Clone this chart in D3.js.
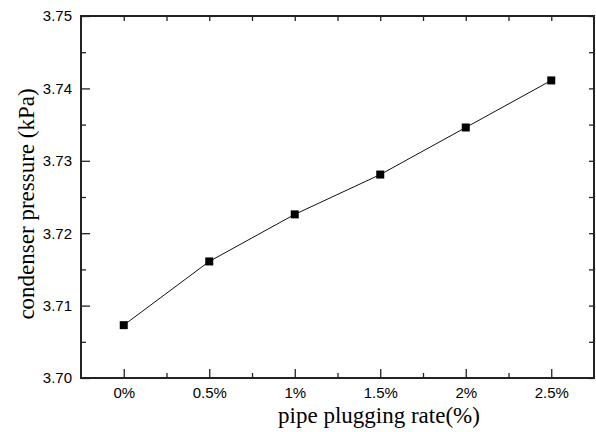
<!DOCTYPE html>
<html>
<head>
<meta charset="utf-8">
<script src="https://cdn.jsdelivr.net/npm/d3@7"></script>
<style>
  body { margin: 0; background: #fff; }
  svg { display: block; }
  .tick text { font-family: "Liberation Sans", Arial, sans-serif; font-size: 15px; fill: #000; }
  .title { font-family: "Liberation Serif", "Times New Roman", serif; font-size: 23px; fill: #000; }
</style>
</head>
<body>
<div id="chart"></div>
<script>
// data
const rates = [0, 0.5, 1, 1.5, 2, 2.5];
const pressures = [3.7073, 3.7161, 3.7226, 3.7281, 3.7346, 3.7411];
const xTicks = [0, 0.5, 1, 1.5, 2, 2.5];
const yTicks = [3.70, 3.71, 3.72, 3.73, 3.74, 3.75];

const W = 596, H = 432;
const MARGIN = { LEFT: 81, RIGHT: 2, TOP: 16, BOTTOM: 54 };

const svg = d3.select("#chart").append("svg")
  .attr("width", W).attr("height", H);

const x = d3.scaleLinear().domain([-0.25, 2.75]).range([MARGIN.LEFT, W - MARGIN.RIGHT]);
const y = d3.scaleLinear().domain([3.70, 3.75]).range([H - MARGIN.BOTTOM, MARGIN.TOP]);

const minorX = d3.range(-0.25, 2.76, 0.5).filter(v => v > -0.25 && v < 2.75);
const minorY = d3.range(3.705, 3.75, 0.01);

function styleAxis(g) {
  g.select(".domain").remove();
  g.selectAll(".tick line").attr("stroke", "#222").attr("stroke-width", 1.3);
}

// bottom axis (ticks inward)
const bottomG = svg.append("g").attr("transform", `translate(0,${y.range()[0]})`);
bottomG.call(d3.axisBottom(x).tickValues(xTicks).tickSize(-9).tickPadding(9)
  .tickFormat(d => d + "%")).call(styleAxis);
bottomG.append("g").call(d3.axisBottom(x).tickValues(minorX).tickSize(-5).tickFormat(""))
  .call(styleAxis);

// top axis
const topG = svg.append("g").attr("transform", `translate(0,${y.range()[1]})`);
topG.call(d3.axisTop(x).tickValues(xTicks).tickSize(-5).tickFormat("")).call(styleAxis);
topG.append("g").call(d3.axisTop(x).tickValues(minorX).tickSize(-5).tickFormat("")).call(styleAxis);

// left axis
const leftG = svg.append("g").attr("transform", `translate(${x.range()[0]},0)`);
leftG.call(d3.axisLeft(y).tickValues(yTicks).tickSize(-9).tickPadding(9)
  .tickFormat(d3.format(".2f"))).call(styleAxis);
leftG.append("g").call(d3.axisLeft(y).tickValues(minorY).tickSize(-5).tickFormat(""))
  .call(styleAxis);

// right axis
const rightG = svg.append("g").attr("transform", `translate(${x.range()[1]},0)`);
rightG.call(d3.axisRight(y).tickValues(yTicks).tickSize(-5).tickFormat("")).call(styleAxis);
rightG.append("g").call(d3.axisRight(y).tickValues(minorY).tickSize(-5).tickFormat(""))
  .call(styleAxis);

// frame
svg.append("rect")
  .attr("x", x.range()[0]).attr("y", y.range()[1])
  .attr("width", x.range()[1] - x.range()[0])
  .attr("height", y.range()[0] - y.range()[1])
  .attr("fill", "none").attr("stroke", "#222").attr("stroke-width", 2);

// line
const pts = rates.map((r, i) => ({ r: r, p: pressures[i] }));
svg.append("path").datum(pts)
  .attr("fill", "none").attr("stroke", "#111").attr("stroke-width", 1)
  .attr("d", d3.line().x(d => x(d.r)).y(d => y(d.p)));

svg.selectAll(".marker").data(pts).enter().append("rect")
  .attr("class", "marker")
  .attr("x", d => x(d.r) - 4).attr("y", d => y(d.p) - 4)
  .attr("width", 8).attr("height", 8).attr("fill", "#000");

// axis titles
svg.append("text").attr("class", "title")
  .attr("text-anchor", "middle")
  .attr("x", 379).attr("y", 423)
  .text("pipe plugging rate(%)");

svg.append("text").attr("class", "title")
  .attr("text-anchor", "middle")
  .attr("transform", "translate(34,204) rotate(-90)")
  .text("condenser pressure (kPa)");
</script>
</body>
</html>
